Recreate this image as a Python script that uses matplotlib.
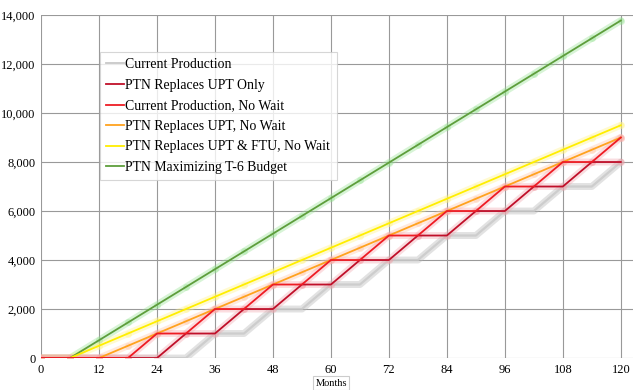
import matplotlib
matplotlib.use('Agg')
import matplotlib.pyplot as plt
from matplotlib.ticker import FuncFormatter

plt.rcParams['font.family'] = ['Liberation Serif', 'DejaVu Serif']

months = [0, 6, 12, 18, 24, 30, 36, 42, 48, 54, 60, 66, 72, 78, 84, 90, 96, 102, 108, 114, 120]

current_production = [0, 0, 0, 0, 0, 0, 1000, 1000, 2000, 2000, 3000, 3000, 4000, 4000,
                      5000, 5000, 6000, 6000, 7000, 7000, 8000]
ptn_upt_only = [0, 0, 0, 0, 0, 1000, 1000, 2000, 2000, 3000, 3000, 4000, 4000, 5000,
                5000, 6000, 6000, 7000, 7000, 8000, 8000]
current_no_wait = [0, 0, 0, 0, 1000, 1000, 2000, 2000, 3000, 3000, 4000, 4000, 5000, 5000,
                   6000, 6000, 7000, 7000, 8000, 8000, 9000]
ptn_upt_no_wait = [0, 0, 0, 500, 1000, 1500, 2000, 2500, 3000, 3500, 4000, 4500, 5000, 5500,
                   6000, 6500, 7000, 7500, 8000, 8500, 9000]
ptn_upt_ftu_no_wait = [0, 0, 500, 1000, 1500, 2000, 2500, 3000, 3500, 4000, 4500, 5000, 5500,
                       6000, 6500, 7000, 7500, 8000, 8500, 9000, 9500]
ptn_max_t6 = [0, 0, 725, 1450, 2175, 2900, 3625, 4350, 5075, 5800, 6525, 7250, 7975, 8700,
              9425, 10150, 10875, 11600, 12325, 13050, 13775]

fig = plt.figure(figsize=(6.38, 3.9), dpi=100)
ax = fig.add_axes([0.0643, 0.082, 0.9277, 0.8795])

# grey "shadow" line
ax.plot(months, current_production, color='#b8b8b8', lw=5, alpha=0.4,
        solid_capstyle='round', zorder=2)
ax.plot(months, current_production, color='#c8c8c8', lw=1.6, alpha=0.8, zorder=2)

series = [
    (ptn_max_t6, '#5e9e3c', '#8fe08a'),
    (ptn_upt_ftu_no_wait, '#ffee00', '#fff27a'),
    (ptn_upt_no_wait, '#ffa21f', '#ffc2a0'),
    (ptn_upt_only, '#c0102a', '#f0a0a8'),
    (current_no_wait, '#ee1c24', '#f7a0a8'),
]
for vals, col, glow in series:
    ax.plot(months, vals, color=glow, lw=5, alpha=0.35, solid_capstyle='round',
            marker='o', ms=5, mec='none', zorder=3)
    ax.plot(months, vals, color=col, lw=1.3, zorder=4)

# legend entries
labels = ['Current Production', 'PTN Replaces UPT Only', 'Current Production, No Wait',
          'PTN Replaces UPT, No Wait', 'PTN Replaces UPT & FTU, No Wait',
          'PTN Maximizing T-6 Budget']
colors = ['#c8c8c8', '#c0102a', '#ee1c24', '#ffa21f', '#ffee00', '#5e9e3c']
handles = [plt.Line2D([], [], color=c, lw=1.3) for c in colors]
leg = fig.legend(handles, labels, loc='upper left', bbox_to_anchor=(100 / 638, 1 - 52 / 390),
                 fontsize=9.9, frameon=True, fancybox=False, handlelength=1.3,
                 handletextpad=0.1, labelspacing=0.55, borderpad=0.45, borderaxespad=0)
leg.get_frame().set_edgecolor('#cccccc')
leg.get_frame().set_linewidth(0.8)

ax.set_xlim(0, 122.5)
ax.set_ylim(0, 14000)
ax.set_xticks(range(0, 121, 12))
ax.set_yticks(range(0, 14001, 2000))
ax.yaxis.set_major_formatter(FuncFormatter(lambda v, p: f'{int(v):,}'))
ax.grid(True, color='#999999', lw=0.8)
ax.set_axisbelow(True)
for s in ax.spines.values():
    s.set_visible(False)
ax.tick_params(length=0, labelsize=9, pad=4)

fig.text(331 / 638, 1 - 383 / 390, 'Months', ha='center', va='center', fontsize=7.5,
         bbox=dict(boxstyle='square,pad=0.25', fc='white', ec='#cccccc', lw=0.8))

fig.savefig('out.png', dpi=100)
